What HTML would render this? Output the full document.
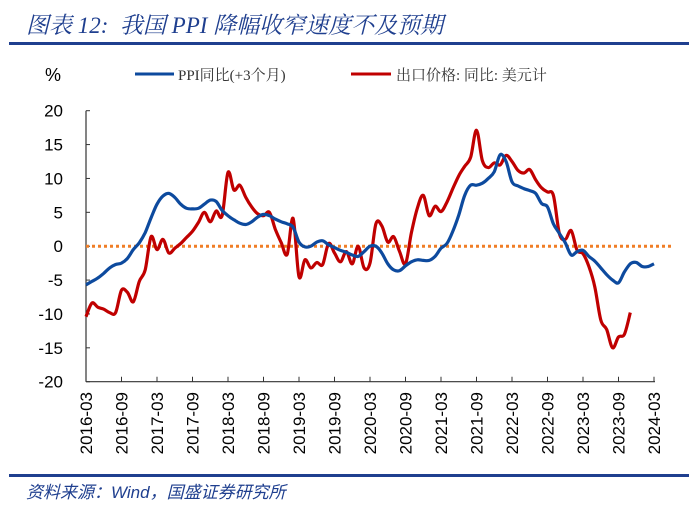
<!DOCTYPE html>
<html><head><meta charset="utf-8"><style>
body{margin:0;background:#fff;}
#wrap{position:relative;width:700px;height:509px;overflow:hidden;font-family:"Liberation Sans","Noto Sans CJK SC",sans-serif;}
</style></head><body>
<div id="wrap">
<div style="position:absolute;left:26px;top:7px;font-size:23px;font-style:italic;color:#1f3f8f;font-family:'Liberation Serif','Noto Serif CJK SC',serif;white-space:nowrap;">图表 12:&nbsp; 我国 PPI 降幅收窄速度不及预期</div>
<div style="position:absolute;left:9px;top:42px;width:680px;height:3px;background:#1f3f8f;"></div>
<div style="position:absolute;left:9px;top:474px;width:680px;height:3px;background:#1f3f8f;"></div>
<div style="position:absolute;left:26px;top:478px;font-size:17px;font-style:italic;color:#1f3f8f;white-space:nowrap;">资料来源：Wind，国盛证券研究所</div>
<svg id="chart" width="700" height="509" style="position:absolute;left:0;top:0"></svg>
</div>
<script>
const yTicks=[20,15,10,5,0,-5,-10,-15,-20];
const xLabels=["2016-03","2016-09","2017-03","2017-09","2018-03","2018-09","2019-03","2019-09","2020-03","2020-09","2021-03","2021-09","2022-03","2022-09","2023-03","2023-09","2024-03"];
const ppiValues=[-5.7,-5.2,-4.7,-4.0,-3.2,-2.7,-2.5,-1.8,-0.5,0.5,2.0,4.2,6.2,7.4,7.8,7.2,6.2,5.6,5.5,5.6,6.2,6.8,6.6,5.3,4.5,3.9,3.4,3.2,3.6,4.3,4.7,4.5,4.0,3.6,3.3,2.8,0.6,-0.1,0.0,0.6,0.8,0.2,-0.2,-0.6,-0.9,-1.3,-1.5,-0.8,0.0,0.0,-1.0,-2.6,-3.5,-3.6,-2.9,-2.3,-2.0,-2.1,-2.1,-1.5,-0.3,0.4,2.2,4.6,7.5,9.0,9.0,9.3,10.0,11.0,13.5,12.5,9.5,8.9,8.5,8.2,7.8,6.3,5.8,3.3,1.9,0.5,-1.3,-0.8,-0.6,-1.5,-2.2,-3.2,-4.2,-5.0,-5.4,-3.8,-2.6,-2.4,-3.0,-3.0,-2.6];
const exportValues=[-10.4,-8.4,-9.0,-9.3,-9.8,-9.8,-6.5,-6.8,-8.2,-5.2,-3.5,1.4,-0.5,1.0,-1.0,-0.3,0.4,1.3,2.2,3.5,5.0,3.6,5.2,4.5,10.9,8.3,9.0,7.2,5.8,4.8,4.5,5.0,2.5,0.5,-1.2,4.1,-4.5,-2.0,-3.2,-2.4,-2.7,0.4,-1.0,-2.3,-0.8,-2.6,0.0,-3.2,-2.5,3.3,3.0,0.6,1.4,-0.8,-2.6,2.0,5.6,7.5,4.5,5.9,5.1,6.5,8.5,10.4,11.8,13.1,17.1,12.6,11.6,12.3,12.0,13.4,12.5,11.2,10.8,11.3,9.8,8.6,8.0,7.5,1.9,1.0,2.3,-0.6,-1.1,-3.0,-6.0,-10.9,-12.3,-15.0,-13.4,-13.0,-9.8];
const NS='http://www.w3.org/2000/svg';
const svg=document.getElementById('chart');
const X0=86,X1=654,Y0=110.7,Y1=381.7,NM=96;
const xs=m=>X0+(X1-X0)*m/NM;
const ys=v=>Y0+(Y1-Y0)*(20-v)/40;
function mk(t,a){const e=document.createElementNS(NS,t);for(const k in a)e.setAttribute(k,a[k]);svg.appendChild(e);return e;}
let e=mk('line',{x1:X0,y1:Y0,x2:X0,y2:Y1,stroke:'#333','stroke-width':1.2});

e=mk('line',{x1:X0,y1:Y1,x2:X1+1,y2:Y1,stroke:'#333','stroke-width':1.2});

yTicks.forEach(v=>{
 let t=mk('line',{x1:X0,y1:ys(v),x2:X0+4,y2:ys(v),stroke:'#333','stroke-width':1});
 
 let l=mk('text',{x:63,y:ys(v)+6,'text-anchor':'end','font-size':17,fill:'#000'});
 l.textContent=v;
 
});
xLabels.forEach((s,i)=>{
 const x=xs(i*6);
 let t=mk('line',{x1:x,y1:Y1,x2:x,y2:Y1-5,stroke:'#333','stroke-width':1});
 
 let l=mk('text',{x:0,y:0,'text-anchor':'end','font-size':17,fill:'#000',transform:`translate(${x+6},392) rotate(-90)`});
 l.textContent=s;
 
});
let u=mk('text',{x:45,y:81,'font-size':18,fill:'#000'});u.textContent='%';

e=mk('line',{x1:X0,y1:ys(0),x2:X1+20,y2:ys(0),stroke:'#f07e26','stroke-width':3,'stroke-dasharray':'3,3'});

function series(vals,color,name){
 const P=vals.map((v,i)=>[xs(i),ys(v)]);
 let d='M'+P[0][0].toFixed(1)+','+P[0][1].toFixed(1);
 for(let i=0;i<P.length-1;i++){
  const p0=P[Math.max(0,i-1)],p1=P[i],p2=P[i+1],p3=P[Math.min(P.length-1,i+2)];
  const c1=[p1[0]+(p2[0]-p0[0])/6,p1[1]+(p2[1]-p0[1])/6];
  const c2=[p2[0]-(p3[0]-p1[0])/6,p2[1]-(p3[1]-p1[1])/6];
  d+='C'+c1.map(n=>n.toFixed(1)).join(',')+' '+c2.map(n=>n.toFixed(1)).join(',')+' '+p2.map(n=>n.toFixed(1)).join(',');
 }
 const p=mk('path',{d:d,fill:'none',stroke:color,'stroke-width':3.2,'stroke-linejoin':'round'});
 
}
series(exportValues,'#c00000','export-price-line');
series(ppiValues,'#0d4a9e','ppi-line');
e=mk('line',{x1:135,y1:74,x2:174,y2:74,stroke:'#0d4a9e','stroke-width':3});

e=mk('text',{x:178,y:80,'font-size':15,fill:'#333','font-family':'"Liberation Serif","Noto Serif CJK SC",serif'});e.textContent='PPI同比(+3个月)';

e=mk('line',{x1:351,y1:74,x2:391,y2:74,stroke:'#c00000','stroke-width':3});

e=mk('text',{x:396,y:80,'font-size':15,fill:'#333','font-family':'"Liberation Serif","Noto Serif CJK SC",serif'});e.textContent='出口价格: 同比: 美元计';

</script>
</body></html>
